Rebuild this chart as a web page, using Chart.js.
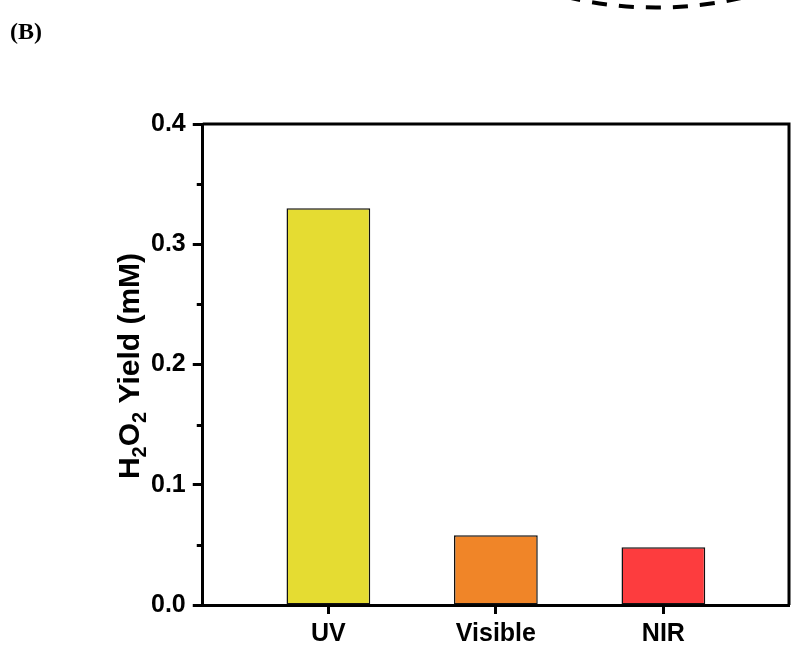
<!DOCTYPE html>
<html>
<head>
<meta charset="utf-8">
<script src="https://cdn.jsdelivr.net/npm/chart.js@4.4.0/dist/chart.umd.min.js"></script>
<style>
  body { margin: 0; background: #fff; }
  canvas { display: block; }
</style>
</head>
<body>
<canvas id="yieldChart" width="791" height="654"></canvas>
<script>
const categories = ['UV', 'Visible', 'NIR'];
const positions = [1, 2, 3];
const yieldValues = [0.330, 0.058, 0.048];
const barColors = ['#e5dc32', '#f08528', '#fd3c3e'];
const minorTicks = [0.05, 0.15, 0.25, 0.35];

const fontFamily = '"Liberation Sans", Arial, sans-serif';

// top and right frame lines, minor ticks on y
const framePlugin = {
  id: 'frame',
  afterDraw(chart) {
    const ctx = chart.ctx;
    const area = chart.chartArea;
    const y = chart.scales.y;
    ctx.save();
    ctx.strokeStyle = '#000';
    ctx.lineWidth = 3;
    ctx.beginPath();
    ctx.moveTo(area.left, area.top);
    ctx.lineTo(area.right, area.top);
    ctx.lineTo(area.right, area.bottom);
    ctx.stroke();

    minorTicks.forEach(v => {
      const py = Math.round(y.getPixelForValue(v)) + 0.5;
      ctx.beginPath();
      ctx.moveTo(area.left - 6, py);
      ctx.lineTo(area.left, py);
      ctx.stroke();
    });
    ctx.restore();
  }
};

// y title with subscripts, panel letter, dashed arc from the panel above
const annotatePlugin = {
  id: 'annotate',
  afterDraw(chart) {
    const ctx = chart.ctx;
    ctx.save();

    const parts = [
      ['H', false], ['2', true], ['O', false], ['2', true], [' Yield (mM)', false]
    ];
    const big = 'bold 30px ' + fontFamily;
    const small = 'bold 20px ' + fontFamily;
    let total = 0;
    parts.forEach(p => {
      ctx.font = p[1] ? small : big;
      total += ctx.measureText(p[0]).width;
    });
    ctx.translate(139, 366);
    ctx.rotate(-Math.PI / 2);
    ctx.fillStyle = '#000';
    ctx.textBaseline = 'alphabetic';
    let x = -total / 2;
    parts.forEach(p => {
      ctx.font = p[1] ? small : big;
      ctx.fillText(p[0], x, p[1] ? 7 : 0);
      x += ctx.measureText(p[0]).width;
    });
    ctx.restore();

    ctx.save();
    ctx.font = 'bold 24px "Liberation Serif", "Times New Roman", serif';
    ctx.fillStyle = '#000';
    ctx.fillText('(B)', 10, 39);

    ctx.strokeStyle = '#000';
    ctx.lineWidth = 4;
    ctx.setLineDash([15, 12]);
    ctx.beginPath();
    ctx.ellipse(656, -92.5, 200, 100, 0, Math.PI * 0.36, Math.PI * 0.64);
    ctx.stroke();
    ctx.restore();
  }
};

new Chart(document.getElementById('yieldChart'), {
  type: 'bar',
  data: {
    datasets: [{
      data: positions.map((p, i) => ({ x: p, y: yieldValues[i] })),
      backgroundColor: barColors,
      borderColor: '#111',
      borderWidth: 1.5,
      borderSkipped: false,
      barPercentage: 0.5,
      categoryPercentage: 1.0
    }]
  },
  options: {
    responsive: false,
    animation: false,
    layout: { padding: { left: 144, right: 2, top: 124, bottom: 0 } },
    plugins: {
      legend: { display: false },
      tooltip: { enabled: false }
    },
    scales: {
      x: {
        type: 'linear',
        offset: false,
        min: 0.25,
        max: 3.75,
        afterBuildTicks: scale => {
          scale.ticks = positions.map(v => ({ value: v }));
        },
        ticks: {
          callback: v => categories[positions.indexOf(v)] || '',
          color: '#000',
          font: { family: fontFamily, weight: 'bold', size: 25 },
          padding: 5,
          maxRotation: 0,
          autoSkip: false
        },
        grid: {
          offset: false,
          drawOnChartArea: false,
          tickLength: 9,
          tickWidth: 3,
          tickColor: '#000'
        },
        border: { color: '#000', width: 3 }
      },
      y: {
        min: 0,
        max: 0.4,
        ticks: {
          stepSize: 0.1,
          callback: v => v.toFixed(1),
          color: '#000',
          font: { family: fontFamily, weight: 'bold', size: 25 },
          padding: 7
        },
        grid: {
          drawOnChartArea: false,
          tickLength: 10,
          tickWidth: 3,
          tickColor: '#000'
        },
        border: { color: '#000', width: 3 }
      }
    }
  },
  plugins: [framePlugin, annotatePlugin]
});
</script>
</body>
</html>
